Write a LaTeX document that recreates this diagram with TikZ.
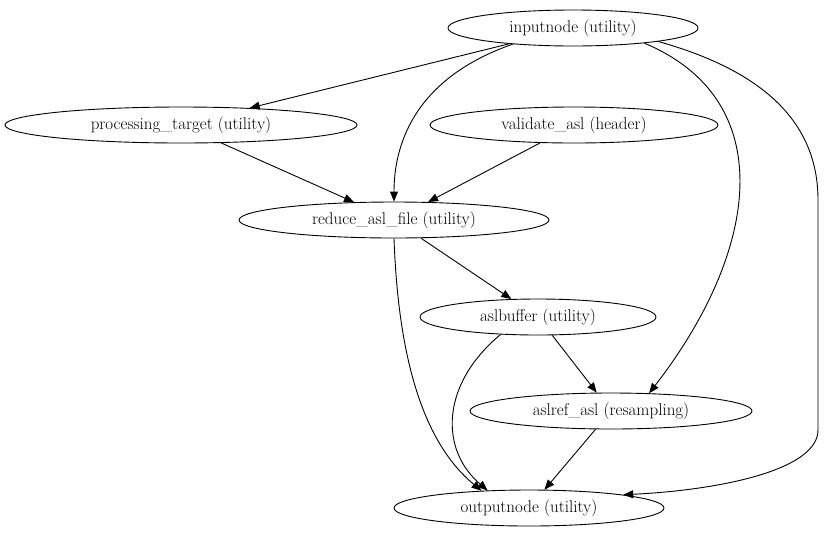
\documentclass[tikz,border=0pt]{standalone}
\usetikzlibrary{shapes.geometric,arrows.meta}
\begin{document}
\begin{tikzpicture}
    [x=1pt,y=-1pt,line width=0.9pt,
    box/.style={draw,ellipse,inner sep=0pt,minimum height=36pt,font=\fontsize{17}{19}\selectfont},
    ->,>={Triangle[length=10pt,width=8pt]}]
    \useasboundingbox (0,0) rectangle (826,539);

    \node[box,minimum width=250pt] (inp) at (573,28) {inputnode (utility)};
    \node[box,minimum width=352pt] (proc) at (181,125) {processing\_target (utility)};
    \node[box,minimum width=288pt] (val) at (574,125) {validate\_asl (header)};
    \node[box,minimum width=310pt] (red) at (394,220) {reduce\_asl\_file (utility)};
    \node[box,minimum width=236pt] (buf) at (538,317) {aslbuffer (utility)};
    \node[box,minimum width=282pt] (ref) at (611,411) {aslref\_asl (resampling)};
    \node[box,minimum width=270pt] (outp) at (529,508) {outputnode (utility)};
    \coordinate (rgt1) at (818,200);
    \coordinate (rgt2) at (818,430);

    \draw (inp) -- (proc);
    \draw (inp.-165) .. controls (410,80) and (394,150) .. (red.north);
    \draw (proc) -- (red);
    \draw (val) -- (red);
    \draw (red) -- (buf);
    \draw (red.south) .. controls (398,350) and (420,440) .. (outp.160);
    \draw (buf.-155) .. controls (440,385) and (440,450) .. (outp.157);
    \draw (buf) -- (ref);
    \draw (inp.-12) .. controls (780,100) and (760,250) .. (ref.25);
    \draw[-] (inp.-9) .. controls (760,70) and (818,120) .. (rgt1) -- (rgt2);
    \draw (rgt2) .. controls (818,470) and (720,490) .. (outp.8);
    \draw (ref) -- (outp);
\end{tikzpicture}
\end{document}
